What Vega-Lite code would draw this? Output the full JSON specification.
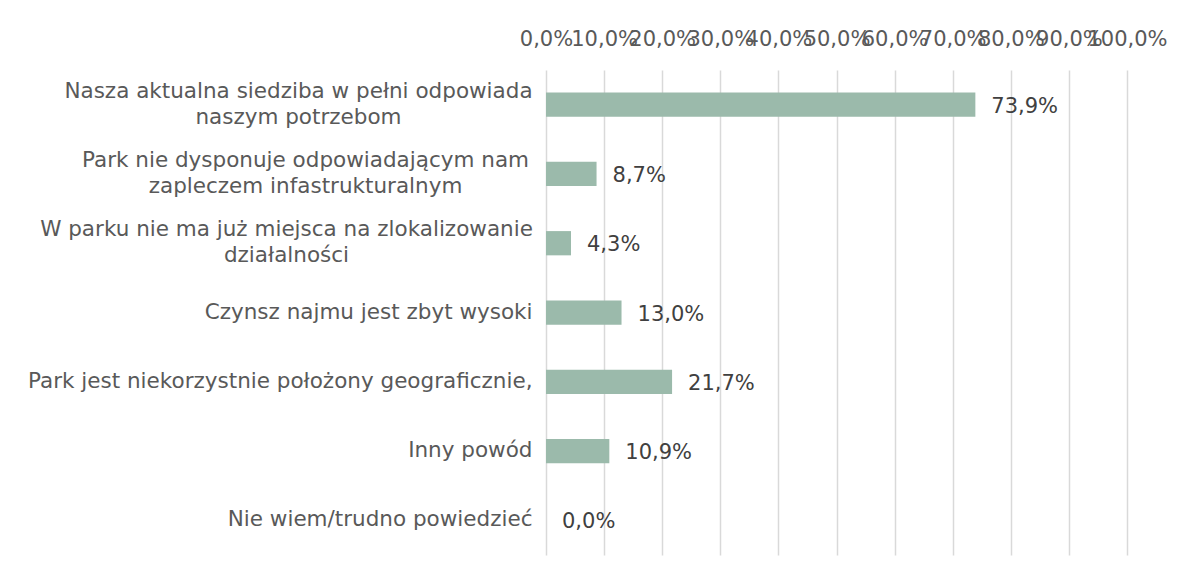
{
  "$schema": "https://vega.github.io/schema/vega-lite/v6.json",
  "autosize": "none",
  "width": 581,
  "height": 485,
  "padding": {"left": 546, "top": 70, "right": 57, "bottom": 21},
  "background": "white",
  "config": {
    "view": {"stroke": null},
    "locale": {"number": {"decimal": ",", "thousands": " ", "grouping": [3], "currency": ["", " zł"]}}
  },
  "data": {
    "values": [
      {"category": "Nasza aktualna siedziba w pełni odpowiada\nnaszym potrzebom", "share": 0.739},
      {"category": "Park nie dysponuje odpowiadającym nam\nzapleczem infastrukturalnym", "share": 0.087},
      {"category": "W parku nie ma już miejsca na zlokalizowanie\ndziałalności", "share": 0.043},
      {"category": "Czynsz najmu jest zbyt wysoki", "share": 0.13},
      {"category": "Park jest niekorzystnie położony geograficznie,", "share": 0.217},
      {"category": "Inny powód", "share": 0.109},
      {"category": "Nie wiem/trudno powiedzieć", "share": 0.0}
    ]
  },
  "encoding": {
    "y": {
      "field": "category",
      "type": "nominal",
      "sort": null,
      "scale": {"paddingInner": 0.65, "paddingOuter": 0.325},
      "axis": {
        "title": null,
        "domain": false,
        "ticks": false,
        "labelFont": "DejaVu Sans",
        "labelFontSize": 21.5,
        "labelColor": "#595959",
        "labelLimit": 0,
        "labelLineHeight": 26,
        "labelExpr": "split(datum.value, '\\n')",
        "labelAlign": {"condition": {"test": "indexof(datum.value, '\\n') >= 0", "value": "center"}, "value": "right"},
        "labelOffset": {"condition": {"test": "indexof(datum.value, '\\n') >= 0", "value": -13}, "value": 0},
        "labelPadding": {"condition": [
          {"test": "indexof(datum.value, 'Nasza') == 0", "value": 248},
          {"test": "indexof(datum.value, 'Park nie') == 0", "value": 241},
          {"test": "indexof(datum.value, 'W parku') == 0", "value": 260}
        ], "value": 14}
      }
    },
    "x": {
      "field": "share",
      "type": "quantitative",
      "scale": {"domain": [0, 1], "nice": false},
      "axis": {
        "orient": "top",
        "title": null,
        "format": ".1%",
        "values": [0, 0.1, 0.2, 0.3, 0.4, 0.5, 0.6, 0.7, 0.8, 0.9, 1.0],
        "domain": false,
        "ticks": false,
        "labelOverlap": false,
        "labelFont": "DejaVu Sans",
        "labelFontSize": 21,
        "labelColor": "#595959",
        "labelPadding": 21,
        "labelFlush": false,
        "grid": true,
        "gridColor": "#d9d9d9",
        "gridWidth": 1.5
      }
    }
  },
  "layer": [
    {"mark": {"type": "bar", "color": "#9bbaab"}},
    {
      "mark": {"type": "text", "align": "left", "baseline": "middle", "dx": 16, "dy": 2, "font": "DejaVu Sans", "fontSize": 21, "color": "#404040"},
      "encoding": {
        "text": {"field": "share", "type": "quantitative", "format": ".1%"}
      }
    }
  ]
}
